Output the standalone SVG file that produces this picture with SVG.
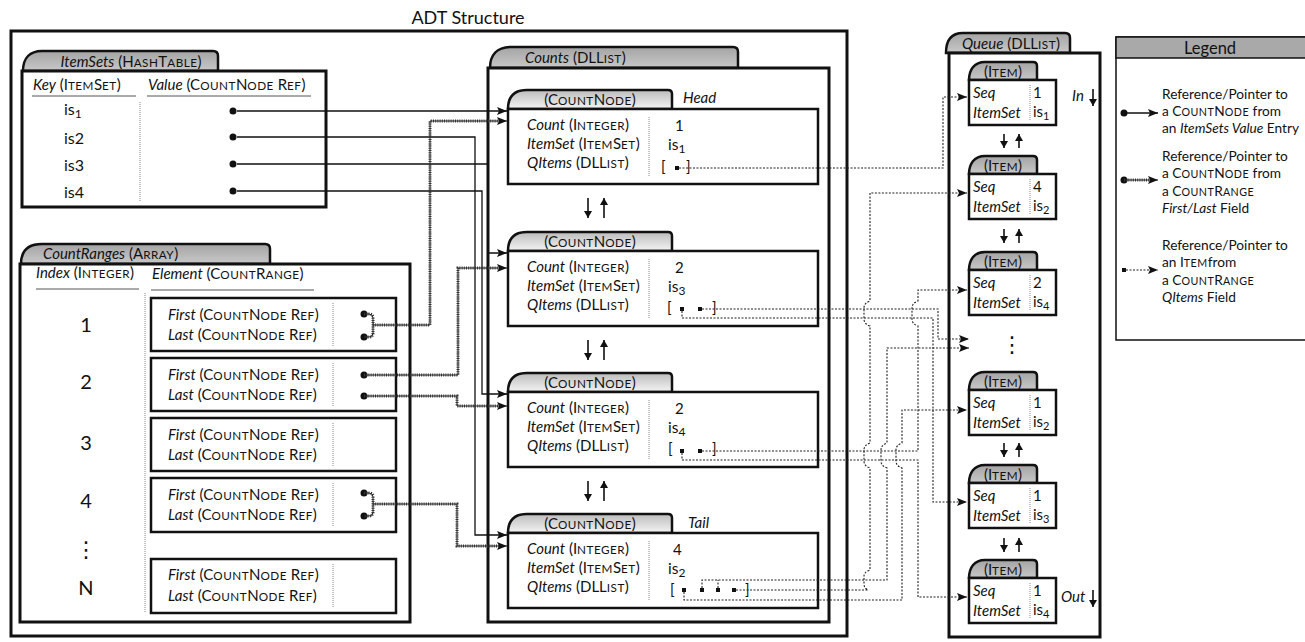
<svg xmlns="http://www.w3.org/2000/svg" width="1305" height="642" viewBox="0 0 1305 642">
<defs>
<linearGradient id="gd" x1="0" y1="0" x2="0" y2="1"><stop offset="0" stop-color="#a4a4a4"/><stop offset="1" stop-color="#c8c8c8"/></linearGradient>
<linearGradient id="gl" x1="0" y1="0" x2="0" y2="1"><stop offset="0" stop-color="#bcbcbc"/><stop offset="1" stop-color="#f4f4f4"/></linearGradient>
<marker id="ah" viewBox="0 0 10 8" refX="10" refY="4" markerWidth="10" markerHeight="8" markerUnits="userSpaceOnUse" orient="auto"><path d="M0,0 L10,4 L0,8 L2,4 Z" fill="#111"/></marker>
<marker id="as" viewBox="0 0 8 9" refX="8" refY="4.5" markerWidth="8" markerHeight="8" markerUnits="userSpaceOnUse" orient="auto"><path d="M0,0 L8,4.5 L0,9 Z" fill="#111"/></marker>
</defs>
<style>
svg{font-family:Lato,"Open Sans","Liberation Sans",sans-serif;font-size:15px}
text{fill:#111}
.s{font-size:78%;letter-spacing:0.5px}
.it{font-style:italic}
.b3{fill:#fff;stroke:#111;stroke-width:3}
.b2{fill:#fff;stroke:#111;stroke-width:2.5}
.td{fill:url(#gd);stroke:#111;stroke-width:2.5}
.tl{fill:url(#gl);stroke:#111;stroke-width:2.5}
.sep{stroke:#888;stroke-width:1;stroke-dasharray:1 1;fill:none}
.ul{stroke:#555;stroke-width:1}
.so{fill:none;stroke:#111;stroke-width:1.3}
.w1{fill:none;stroke:#222;stroke-width:1}
.w2{fill:none;stroke:#333;stroke-width:3;stroke-dasharray:1 1.2}
.dt{fill:none;stroke:#222;stroke-width:1.1;stroke-dasharray:2 1.5}
.dot{fill:#111}
.ud{fill:none;stroke:#111;stroke-width:1.6}
.v{font-size:15.5px}
.lg{font-size:13.7px}
.big{font-size:20px}
.ell{font-family:"DejaVu Sans",sans-serif;font-size:22px}
</style>

<g id="adt">
<rect class="b3" x="11" y="31" width="836" height="605"/>
<text x="468" y="24" text-anchor="middle" font-size="18">ADT Structure</text>
</g>

<g id="itemsets">
<path class="td" d="M23,71 C23,58 30,51 42,51 H213 Q218,51 218,56 V71 Z"/>
<rect class="b3" x="22" y="71" width="304" height="136"/>
<text x="131" y="67" text-anchor="middle"><tspan class="it">ItemSets</tspan> (H<tspan class="s">ASH</tspan>T<tspan class="s">ABLE</tspan>)</text>
<text x="33" y="90"><tspan class="it">Key</tspan> (I<tspan class="s">TEM</tspan>S<tspan class="s">ET</tspan>)</text>
<line class="ul" x1="32" y1="96" x2="136" y2="96"/>
<text x="148" y="90"><tspan class="it">Value</tspan> (C<tspan class="s">OUNT</tspan>N<tspan class="s">ODE</tspan> R<tspan class="s">EF</tspan>)</text>
<line class="ul" x1="147" y1="96" x2="311" y2="96"/>
<line class="sep" x1="140" y1="102" x2="140" y2="202"/>
<text x="64" y="115" font-size="16">is<tspan font-size="12" dy="3">1</tspan></text>
<text x="64" y="144" font-size="16">is2</text>
<text x="64" y="171" font-size="16">is3</text>
<text x="64" y="198" font-size="16">is4</text>
<circle class="dot" cx="233" cy="111" r="3.5"/>
<circle class="dot" cx="233" cy="137" r="3.5"/>
<circle class="dot" cx="233" cy="164" r="3.5"/>
<circle class="dot" cx="233" cy="191" r="3.5"/>
</g>

<g id="countranges">
<path class="td" d="M21,264 C21,251 28,244 42,244 H265 Q270,244 270,249 V264 Z"/>
<rect class="b3" x="20" y="264" width="390" height="358"/>
<text x="43" y="259"><tspan class="it">CountRanges</tspan> (A<tspan class="s">RRAY</tspan>)</text>
<text x="36" y="278"><tspan class="it">Index</tspan> (I<tspan class="s">NTEGER</tspan>)</text>
<line class="ul" x1="36" y1="289" x2="139" y2="289"/>
<text x="152" y="279"><tspan class="it">Element</tspan> (C<tspan class="s">OUNT</tspan>R<tspan class="s">ANGE</tspan>)</text>
<line class="ul" x1="151" y1="290" x2="314" y2="290"/>
<line class="sep" x1="145" y1="293" x2="145" y2="612"/>
<text x="86" y="332" text-anchor="middle" class="big">1</text>
<text x="86" y="389" text-anchor="middle" class="big">2</text>
<text x="86" y="450" text-anchor="middle" class="big">3</text>
<text x="86" y="508" text-anchor="middle" class="big">4</text>
<text x="86" y="557" text-anchor="middle" class="ell">⋮</text>
<text x="86" y="595" text-anchor="middle" class="big">N</text>
<rect class="b2" x="151" y="298" width="245" height="53"/>
<text x="168" y="320"><tspan class="it">First</tspan> (C<tspan class="s">OUNT</tspan>N<tspan class="s">ODE</tspan> R<tspan class="s">EF</tspan>)</text>
<text x="168" y="340"><tspan class="it">Last</tspan> (C<tspan class="s">OUNT</tspan>N<tspan class="s">ODE</tspan> R<tspan class="s">EF</tspan>)</text>
<line class="sep" x1="333" y1="303" x2="333" y2="346"/>
<circle class="dot" cx="364" cy="314" r="3.5"/>
<circle class="dot" cx="364" cy="337" r="3.5"/>
<rect class="b2" x="151" y="358" width="245" height="53"/>
<text x="168" y="380"><tspan class="it">First</tspan> (C<tspan class="s">OUNT</tspan>N<tspan class="s">ODE</tspan> R<tspan class="s">EF</tspan>)</text>
<text x="168" y="400"><tspan class="it">Last</tspan> (C<tspan class="s">OUNT</tspan>N<tspan class="s">ODE</tspan> R<tspan class="s">EF</tspan>)</text>
<line class="sep" x1="333" y1="363" x2="333" y2="406"/>
<circle class="dot" cx="364" cy="375" r="3.5"/>
<circle class="dot" cx="364" cy="396" r="3.5"/>
<rect class="b2" x="151" y="418" width="245" height="53"/>
<text x="168" y="440"><tspan class="it">First</tspan> (C<tspan class="s">OUNT</tspan>N<tspan class="s">ODE</tspan> R<tspan class="s">EF</tspan>)</text>
<text x="168" y="460"><tspan class="it">Last</tspan> (C<tspan class="s">OUNT</tspan>N<tspan class="s">ODE</tspan> R<tspan class="s">EF</tspan>)</text>
<line class="sep" x1="333" y1="423" x2="333" y2="466"/>
<rect class="b2" x="151" y="478" width="245" height="54"/>
<text x="168" y="500"><tspan class="it">First</tspan> (C<tspan class="s">OUNT</tspan>N<tspan class="s">ODE</tspan> R<tspan class="s">EF</tspan>)</text>
<text x="168" y="520"><tspan class="it">Last</tspan> (C<tspan class="s">OUNT</tspan>N<tspan class="s">ODE</tspan> R<tspan class="s">EF</tspan>)</text>
<line class="sep" x1="333" y1="483" x2="333" y2="527"/>
<circle class="dot" cx="364" cy="493" r="3.5"/>
<circle class="dot" cx="364" cy="516" r="3.5"/>
<rect class="b2" x="151" y="559" width="245" height="54"/>
<text x="168" y="580"><tspan class="it">First</tspan> (C<tspan class="s">OUNT</tspan>N<tspan class="s">ODE</tspan> R<tspan class="s">EF</tspan>)</text>
<text x="168" y="601"><tspan class="it">Last</tspan> (C<tspan class="s">OUNT</tspan>N<tspan class="s">ODE</tspan> R<tspan class="s">EF</tspan>)</text>
<line class="sep" x1="333" y1="564" x2="333" y2="608"/>
</g>

<g id="counts">
<path class="td" d="M490,68 C490,55 497,47 511,47 H733 Q738,47 738,52 V68 Z"/>
<rect class="b3" x="488" y="68" width="341" height="554"/>
<text x="525" y="63"><tspan class="it">Counts</tspan> (DLL<tspan class="s">IST</tspan>)</text>
<line class="ud" x1="588" y1="198" x2="588" y2="218" marker-end="url(#as)"/>
<line class="ud" x1="604" y1="218" x2="604" y2="198" marker-end="url(#as)"/>
<line class="ud" x1="588" y1="340" x2="588" y2="360" marker-end="url(#as)"/>
<line class="ud" x1="604" y1="360" x2="604" y2="340" marker-end="url(#as)"/>
<line class="ud" x1="588" y1="481" x2="588" y2="501" marker-end="url(#as)"/>
<line class="ud" x1="604" y1="501" x2="604" y2="481" marker-end="url(#as)"/>
</g>

<g id="countnode-head">
<path class="tl" d="M508,109 C508,97 514,90 527,90 H668 Q672,90 672,94 V109 Z"/>
<rect class="b2" x="508" y="109" width="310" height="75"/>
<text x="590" y="105" text-anchor="middle">(C<tspan class="s">OUNT</tspan>N<tspan class="s">ODE</tspan>)</text>
<text x="683" y="103" class="it">Head</text>
<text x="527" y="130"><tspan class="it">Count</tspan> (I<tspan class="s">NTEGER</tspan>)</text>
<text x="527" y="149"><tspan class="it">ItemSet</tspan> (I<tspan class="s">TEM</tspan>S<tspan class="s">ET</tspan>)</text>
<text x="527" y="168"><tspan class="it">QItems</tspan> (DLL<tspan class="s">IST</tspan>)</text>
<line class="sep" x1="649" y1="117" x2="649" y2="177"/>
<text x="675" y="131">1</text>
<text x="668" y="150" class="v">is<tspan font-size="12" dy="3">1</tspan></text>
<text x="661" y="172">[</text><rect class="dot" x="675" y="166" width="4" height="4"/><text x="686" y="172">]</text>
</g>

<g id="countnode-2">
<path class="tl" d="M508,251 C508,239 514,232 527,232 H668 Q672,232 672,236 V251 Z"/>
<rect class="b2" x="508" y="251" width="310" height="75"/>
<text x="590" y="247" text-anchor="middle">(C<tspan class="s">OUNT</tspan>N<tspan class="s">ODE</tspan>)</text>
<text x="527" y="272"><tspan class="it">Count</tspan> (I<tspan class="s">NTEGER</tspan>)</text>
<text x="527" y="291"><tspan class="it">ItemSet</tspan> (I<tspan class="s">TEM</tspan>S<tspan class="s">ET</tspan>)</text>
<text x="527" y="310"><tspan class="it">QItems</tspan> (DLL<tspan class="s">IST</tspan>)</text>
<line class="sep" x1="649" y1="259" x2="649" y2="319"/>
<text x="675" y="273">2</text>
<text x="668" y="292" class="v">is<tspan font-size="12" dy="3">3</tspan></text>
<text x="667" y="313">[</text><rect class="dot" x="680" y="307" width="4" height="4"/><rect class="dot" x="698" y="307" width="4" height="4"/><text x="712" y="313">]</text>
</g>

<g id="countnode-3">
<path class="tl" d="M508,392 C508,380 514,373 527,373 H668 Q672,373 672,377 V392 Z"/>
<rect class="b2" x="508" y="392" width="310" height="75"/>
<text x="590" y="388" text-anchor="middle">(C<tspan class="s">OUNT</tspan>N<tspan class="s">ODE</tspan>)</text>
<text x="527" y="413"><tspan class="it">Count</tspan> (I<tspan class="s">NTEGER</tspan>)</text>
<text x="527" y="432"><tspan class="it">ItemSet</tspan> (I<tspan class="s">TEM</tspan>S<tspan class="s">ET</tspan>)</text>
<text x="527" y="451"><tspan class="it">QItems</tspan> (DLL<tspan class="s">IST</tspan>)</text>
<line class="sep" x1="649" y1="400" x2="649" y2="460"/>
<text x="675" y="414">2</text>
<text x="668" y="433" class="v">is<tspan font-size="12" dy="3">4</tspan></text>
<text x="668" y="454">[</text><rect class="dot" x="680" y="449" width="4" height="4"/><rect class="dot" x="698" y="449" width="4" height="4"/><text x="712" y="454">]</text>
</g>

<g id="countnode-tail">
<path class="tl" d="M508,533 C508,521 514,514 527,514 H668 Q672,514 672,518 V533 Z"/>
<rect class="b2" x="508" y="533" width="310" height="75"/>
<text x="590" y="529" text-anchor="middle">(C<tspan class="s">OUNT</tspan>N<tspan class="s">ODE</tspan>)</text>
<text x="688" y="528" class="it">Tail</text>
<text x="527" y="554"><tspan class="it">Count</tspan> (I<tspan class="s">NTEGER</tspan>)</text>
<text x="527" y="573"><tspan class="it">ItemSet</tspan> (I<tspan class="s">TEM</tspan>S<tspan class="s">ET</tspan>)</text>
<text x="527" y="592"><tspan class="it">QItems</tspan> (DLL<tspan class="s">IST</tspan>)</text>
<line class="sep" x1="649" y1="541" x2="649" y2="601"/>
<text x="673" y="555">4</text>
<text x="668" y="574" class="v">is<tspan font-size="12" dy="3">2</tspan></text>
<text x="670" y="595">[</text><rect class="dot" x="682" y="588" width="4" height="4"/><rect class="dot" x="700" y="588" width="4" height="4"/><rect class="dot" x="716" y="588" width="4" height="4"/><rect class="dot" x="732" y="588" width="4" height="4"/><text x="745" y="595">]</text>
</g>

<g id="queue">
<path class="td" d="M946,53 C946,41 951,33 963,33 H1065 Q1070,33 1070,38 V53 Z"/>
<rect class="b3" x="949" y="53" width="151" height="584"/>
<text x="962" y="49"><tspan class="it">Queue</tspan> (DLL<tspan class="s">IST</tspan>)</text>
<text x="1072" y="101" class="it">In</text>
<line class="ud" x1="1093" y1="89" x2="1093" y2="106" marker-end="url(#as)"/>
<text x="1061" y="602" class="it">Out</text>
<line class="ud" x1="1093" y1="590" x2="1093" y2="607" marker-end="url(#as)"/>
<text x="1012" y="352" text-anchor="middle" class="ell">⋮</text>
<line class="ud" x1="1004" y1="134" x2="1004" y2="148" marker-end="url(#as)"/>
<line class="ud" x1="1019" y1="148" x2="1019" y2="134" marker-end="url(#as)"/>
<line class="ud" x1="1004" y1="229" x2="1004" y2="243" marker-end="url(#as)"/>
<line class="ud" x1="1019" y1="243" x2="1019" y2="229" marker-end="url(#as)"/>
<line class="ud" x1="1004" y1="443" x2="1004" y2="457" marker-end="url(#as)"/>
<line class="ud" x1="1019" y1="457" x2="1019" y2="443" marker-end="url(#as)"/>
<line class="ud" x1="1004" y1="538" x2="1004" y2="552" marker-end="url(#as)"/>
<line class="ud" x1="1019" y1="552" x2="1019" y2="538" marker-end="url(#as)"/>
</g>

<g id="item-1">
<path class="td" d="M969,80 C969,70 974,62 985,62 H1033 Q1037,62 1037,66 V80 Z"/>
<rect class="b2" x="969" y="80" width="87" height="45"/>
<text x="1003" y="77" text-anchor="middle">(I<tspan class="s">TEM</tspan>)</text>
<text x="973" y="98" class="it">Seq</text><text x="973" y="118" class="it">ItemSet</text>
<line class="sep" x1="1030" y1="85" x2="1030" y2="120"/>
<text x="1033" y="98">1</text><text x="1033" y="117">is<tspan font-size="11" dy="3">1</tspan></text>
</g>
<g id="item-2">
<path class="td" d="M969,174 C969,164 974,156 985,156 H1033 Q1037,156 1037,160 V174 Z"/>
<rect class="b2" x="969" y="174" width="87" height="45"/>
<text x="1003" y="171" text-anchor="middle">(I<tspan class="s">TEM</tspan>)</text>
<text x="973" y="192" class="it">Seq</text><text x="973" y="212" class="it">ItemSet</text>
<line class="sep" x1="1030" y1="179" x2="1030" y2="214"/>
<text x="1033" y="192">4</text><text x="1033" y="211">is<tspan font-size="11" dy="3">2</tspan></text>
</g>
<g id="item-3">
<path class="td" d="M969,270 C969,260 974,252 985,252 H1033 Q1037,252 1037,256 V270 Z"/>
<rect class="b2" x="969" y="270" width="87" height="45"/>
<text x="1003" y="267" text-anchor="middle">(I<tspan class="s">TEM</tspan>)</text>
<text x="973" y="288" class="it">Seq</text><text x="973" y="308" class="it">ItemSet</text>
<line class="sep" x1="1030" y1="275" x2="1030" y2="310"/>
<text x="1033" y="288">2</text><text x="1033" y="307">is<tspan font-size="11" dy="3">4</tspan></text>
</g>
<g id="item-4">
<path class="td" d="M969,390 C969,380 974,372 985,372 H1033 Q1037,372 1037,376 V390 Z"/>
<rect class="b2" x="969" y="390" width="87" height="45"/>
<text x="1003" y="387" text-anchor="middle">(I<tspan class="s">TEM</tspan>)</text>
<text x="973" y="408" class="it">Seq</text><text x="973" y="428" class="it">ItemSet</text>
<line class="sep" x1="1030" y1="395" x2="1030" y2="430"/>
<text x="1033" y="408">1</text><text x="1033" y="427">is<tspan font-size="11" dy="3">2</tspan></text>
</g>
<g id="item-5">
<path class="td" d="M969,483 C969,473 974,465 985,465 H1033 Q1037,465 1037,469 V483 Z"/>
<rect class="b2" x="969" y="483" width="87" height="45"/>
<text x="1003" y="480" text-anchor="middle">(I<tspan class="s">TEM</tspan>)</text>
<text x="973" y="501" class="it">Seq</text><text x="973" y="521" class="it">ItemSet</text>
<line class="sep" x1="1030" y1="488" x2="1030" y2="523"/>
<text x="1033" y="501">1</text><text x="1033" y="520">is<tspan font-size="11" dy="3">3</tspan></text>
</g>
<g id="item-6">
<path class="td" d="M969,578 C969,568 974,560 985,560 H1033 Q1037,560 1037,564 V578 Z"/>
<rect class="b2" x="969" y="578" width="87" height="45"/>
<text x="1003" y="575" text-anchor="middle">(I<tspan class="s">TEM</tspan>)</text>
<text x="973" y="596" class="it">Seq</text><text x="973" y="616" class="it">ItemSet</text>
<line class="sep" x1="1030" y1="583" x2="1030" y2="618"/>
<text x="1033" y="596">1</text><text x="1033" y="615">is<tspan font-size="11" dy="3">4</tspan></text>
</g>

<g id="legend">
<rect x="1116" y="37" width="192" height="303" fill="#fff" stroke="#111" stroke-width="1.5"/>
<rect x="1116" y="37" width="192" height="21" fill="#a9a9a9" stroke="#111" stroke-width="1.5"/>
<text x="1210" y="54" text-anchor="middle" font-size="16.5">Legend</text>
<text x="1162" y="99" class="lg">Reference/Pointer to</text>
<text x="1162" y="116" class="lg">a C<tspan class="s">OUNT</tspan>N<tspan class="s">ODE</tspan> from</text>
<text x="1162" y="133" class="lg">an <tspan class="it">ItemSets Value</tspan> Entry</text>
<circle class="dot" cx="1124" cy="113" r="3.5"/>
<path class="so" d="M1124,113 H1158" marker-end="url(#ah)"/>
<text x="1162" y="161" class="lg">Reference/Pointer to</text>
<text x="1162" y="178" class="lg">a C<tspan class="s">OUNT</tspan>N<tspan class="s">ODE</tspan> from</text>
<text x="1162" y="196" class="lg">a C<tspan class="s">OUNT</tspan>R<tspan class="s">ANGE</tspan></text>
<text x="1162" y="213" class="lg"><tspan class="it">First/Last</tspan> Field</text>
<circle class="dot" cx="1124" cy="180" r="3.5"/>
<path class="w1" d="M1124,180 H1158" marker-end="url(#ah)"/>
<path class="w2" d="M1124,180 H1150"/>
<text x="1162" y="250" class="lg">Reference/Pointer to</text>
<text x="1162" y="267" class="lg">an I<tspan class="s">TEM</tspan>from</text>
<text x="1162" y="285" class="lg">a C<tspan class="s">OUNT</tspan>R<tspan class="s">ANGE</tspan></text>
<text x="1162" y="302" class="lg"><tspan class="it">QItems</tspan> Field</text>
<rect class="dot" x="1122" y="268" width="4" height="4"/>
<path class="dt" d="M1126,270 H1158" marker-end="url(#ah)"/>
</g>

<g id="connectors">
<path class="so" marker-end="url(#ah)" d="M237,111 H507"/>
<path class="so" marker-end="url(#ah)" d="M237,137 H475 V535 H507"/>
<path class="so" marker-end="url(#ah)" d="M237,164 H488 V253 H507"/>
<path class="so" marker-end="url(#ah)" d="M237,191 H482 V394 H507"/>

<path class="w1" d="M364,314 H369 Q373,314 373,318 V333 Q373,337 369,337 H364"/>
<path class="w2" d="M364,314 H369 Q373,314 373,318 V333 Q373,337 369,337 H364"/>
<path class="w1" marker-end="url(#ah)" d="M373,325 H430 V121 H507"/>
<path class="w2" d="M373,325 H430 V121 H499"/>
<path class="w1" marker-end="url(#ah)" d="M364,375 H458 V268 H507"/>
<path class="w2" d="M364,375 H458 V268 H499"/>
<path class="w1" marker-end="url(#ah)" d="M364,396 H457 V406 H507"/>
<path class="w2" d="M364,396 H457 V406 H499"/>
<path class="w1" d="M364,493 H369 Q373,493 373,497 V512 Q373,516 369,516 H364"/>
<path class="w2" d="M364,493 H369 Q373,493 373,497 V512 Q373,516 369,516 H364"/>
<path class="w1" marker-end="url(#ah)" d="M373,504 H457 V546 H507"/>
<path class="w2" d="M373,504 H457 V546 H499"/>

<path class="dt" marker-end="url(#ah)" d="M679,168 H943 V97 H967"/>
<path class="dt" marker-end="url(#ah)" d="M702,309 H938 V339 H969"/>
<path class="dt" marker-end="url(#ah)" d="M682,311 V318 H933 V502 H967"/>
<path class="dt" marker-end="url(#ah)" d="M702,451 H918 V326 Q912,324 912,319 V308 Q912,303 918,301 V290 H967"/>
<path class="dt" marker-end="url(#ah)" d="M682,453 V460 H918 V597 H967"/>
<path class="dt" marker-end="url(#ah)" d="M736,590 H868 Q864,588 864,584 V576 Q864,572 870,570 V468 Q864,466 864,461 V450 Q864,445 870,443 V326 Q864,324 864,319 V308 Q864,303 870,301 V193 H967"/>
<path class="dt" marker-end="url(#ah)" d="M702,588 V580 H887 V468 Q881,466 881,461 V450 Q881,445 887,443 V348 H969"/>
<path class="dt" d="M718,588 V580"/>
<path class="dt" marker-end="url(#ah)" d="M684,592 V600 H902 V468 Q896,466 896,461 V450 Q896,445 902,443 V410 H967"/>
</g>
</svg>
